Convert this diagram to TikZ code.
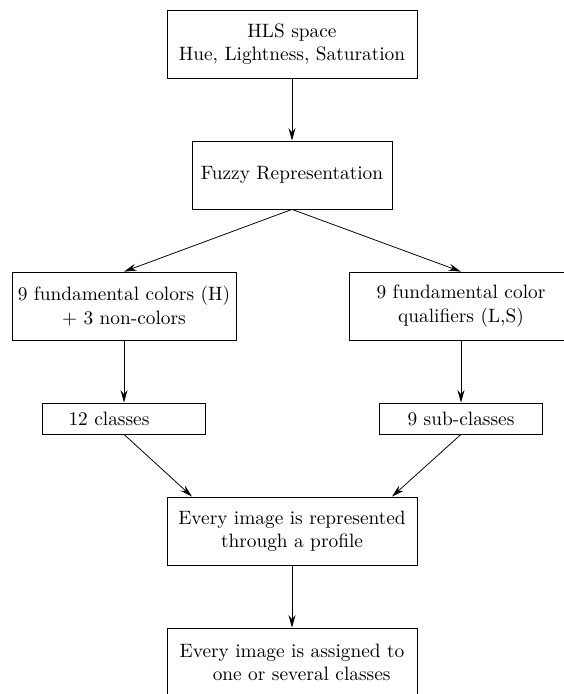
\documentclass[tikz,border=0pt]{standalone}
\usetikzlibrary{arrows.meta}
\def\px{0.517pt}
\tikzset{box/.style={draw, rectangle, align=center, inner sep=0pt, minimum height=68*\px},
         flow/.style={-{Stealth[length=6.5pt, width=3.6pt, inset=2.2pt]}}}

\begin{document}
\begin{tikzpicture}[x=\px, y=-\px]
			\useasboundingbox (0,0) rectangle (564,694);
			\node[box, minimum width=250*\px] (hls)    at (292,  44)	{HLS space\\Hue, Lightness, Saturation};
			\node[box, minimum width=200*\px] (fuzzy)  at (292, 175)	{Fuzzy Representation};
			\node[box, minimum width=224*\px] (col)    at (124, 306)	{9 fundamental colors (H)\\$+$ 3 non-colors};
			\node[box, minimum width=224*\px] (qual)   at (461, 306)	{9 fundamental color\\qualifiers (L,S)};
			\node[box, minimum width=163*\px, minimum height=31*\px,
			      label={[xshift=-15*\px]center:12 classes}] (cls) at (124, 418.5) {};
			\node[box, minimum width=163*\px, minimum height=31*\px] (sub) at (461, 418.5) {9 sub-classes};
			\node[box, minimum width=250*\px] (prof)   at (292, 531)	{Every image is represented\\through a profile};
			\node[box, minimum width=250*\px] (assign) at (292, 662)	{Every image is assigned to\\\hspace*{10pt}one or several classes};
			
			\def\straight {hls/fuzzy, fuzzy/col, fuzzy/qual, col/cls, qual/sub, prof/assign}  % top to bottom
			\foreach \u/\v in \straight
			{	\draw[flow] (\u.south) -- (\v.north);
			}
			
			\draw[flow] (cls.south) -- ([xshift=-100*\px]prof.north);
			\draw[flow] (sub.south) -- ([xshift=100*\px]prof.north);
		\end{tikzpicture}
\end{document}
